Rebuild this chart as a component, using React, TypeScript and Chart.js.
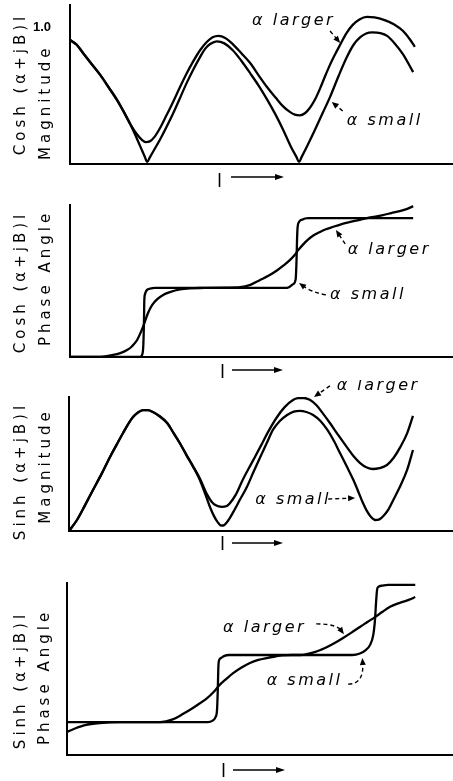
import React, { useEffect, useRef } from 'react';
import { Chart, registerables } from 'chart.js';

Chart.register(...registerables);

// x values: βl in degrees; y values
// Panel 1: Cosh (α+jB)l magnitude
const coshMagSmallX = [0, 8, 15.5, 25, 36, 46, 56, 66, 75, 84, 89, 92, 95, 100, 107, 115, 123, 131, 139, 147, 155, 161, 167, 175, 184, 194, 204, 215, 225, 235, 245, 254, 263, 270, 273, 276, 283, 292, 301, 310, 320, 330, 338, 346, 353, 360, 370, 378, 387, 397, 409];
const coshMagSmallY = [0.905, 0.87, 0.81, 0.735, 0.65, 0.56, 0.47, 0.36, 0.25, 0.125, 0.055, 0.015, 0.047, 0.1, 0.175, 0.27, 0.37, 0.48, 0.59, 0.69, 0.78, 0.84, 0.875, 0.895, 0.88, 0.83, 0.755, 0.66, 0.57, 0.47, 0.36, 0.25, 0.13, 0.05, 0.015, 0.05, 0.135, 0.25, 0.37, 0.49, 0.64, 0.78, 0.87, 0.925, 0.952, 0.96, 0.955, 0.935, 0.88, 0.8, 0.67];
const coshMagLargerX = [0, 8, 15.5, 25, 36, 46, 56, 64, 72, 80, 86, 90, 95, 101, 108, 115, 123, 131, 139, 147, 155, 163, 170, 177, 185, 194, 204, 215, 225, 235, 245, 254, 262, 268, 274, 280, 286, 292, 298, 304, 310, 316, 322, 329, 337, 345, 354, 363, 375, 386, 397, 405, 411];
const coshMagLargerY = [0.905, 0.87, 0.81, 0.735, 0.65, 0.56, 0.465, 0.38, 0.29, 0.215, 0.175, 0.16, 0.165, 0.2, 0.27, 0.355, 0.455, 0.56, 0.66, 0.75, 0.83, 0.89, 0.925, 0.935, 0.92, 0.875, 0.81, 0.735, 0.645, 0.56, 0.485, 0.42, 0.38, 0.36, 0.355, 0.37, 0.41, 0.47, 0.55, 0.64, 0.725, 0.8, 0.87, 0.95, 1.015, 1.055, 1.073, 1.07, 1.05, 1.02, 0.97, 0.91, 0.855];
const magTicks = [1.0];

// Panel 2: Cosh (α+jB)l phase angle (degrees)
const coshPhaseSmallX = [0, 40, 80, 83.4, 85.8, 87.4, 88.2, 88.6, 89.4, 91.8, 95.4, 101, 140, 200, 256, 261, 266, 269, 270, 270.6, 271.2, 273, 276.5, 284, 340, 409];
const coshPhaseSmallY = [0, 0, 0, 0, 5, 31, 96, 148, 163, 174, 177, 179, 179, 179, 179, 181, 189, 202, 251, 303, 334, 350, 356, 360, 360, 360];
const coshPhaseLargerX = [0, 20, 36, 48, 60, 68, 74, 80, 87, 93, 98, 104, 111, 119, 131, 143, 160, 185, 203, 215, 226, 237, 247, 255, 262, 268, 272, 278, 283, 290, 298, 305, 313, 323, 334, 344, 354, 364, 373, 383, 393, 402, 409];
const coshPhaseLargerY = [0, 0, 0, 4, 10, 18, 28, 44, 78, 114, 135, 150, 161, 168, 175, 178, 179, 180, 181, 187, 199, 211, 225, 238, 251, 265, 277, 292, 303, 315, 324, 331, 337, 344, 350, 355, 360, 364, 368, 373, 378, 384, 391];

// Panel 3: Sinh (α+jB)l magnitude
const sinhMagSmallX = [0, 9.5, 19, 28.6, 39, 48.9, 57, 64.4, 70, 76.3, 82, 88.2, 94, 100, 108, 117, 124, 132, 140, 148, 156, 162, 168, 173, 177, 181, 184, 188, 192, 197, 204, 212, 220, 228, 236, 243, 251, 260, 268, 275, 283, 291, 300, 308, 316, 323, 331, 339, 345, 350, 355, 360, 365, 370, 375, 381, 387, 395, 403, 410];
const sinhMagSmallY = [0, 0.09, 0.21, 0.336, 0.47, 0.607, 0.71, 0.803, 0.87, 0.934, 0.97, 0.99, 0.99, 0.975, 0.94, 0.885, 0.81, 0.721, 0.62, 0.525, 0.418, 0.31, 0.197, 0.12, 0.075, 0.045, 0.045, 0.07, 0.11, 0.17, 0.26, 0.361, 0.485, 0.607, 0.725, 0.828, 0.9, 0.951, 0.978, 0.984, 0.975, 0.951, 0.9, 0.828, 0.735, 0.639, 0.53, 0.418, 0.32, 0.235, 0.165, 0.115, 0.09, 0.095, 0.125, 0.18, 0.26, 0.37, 0.5, 0.664];
const sinhMagLargerX = [0, 9.5, 19, 28.6, 39, 48.9, 57, 64.4, 70, 76.3, 82, 88.2, 94, 100, 108, 117, 124, 132, 140, 148, 156, 164.5, 170, 175, 182, 188, 192, 199, 207, 218, 228, 238, 248, 257, 267, 273, 280, 287, 295, 303, 311, 321, 331, 339, 347, 355, 362, 370, 379, 387, 395, 403, 410];
const sinhMagLargerY = [0, 0.09, 0.21, 0.336, 0.47, 0.607, 0.71, 0.803, 0.87, 0.934, 0.97, 0.99, 0.99, 0.975, 0.94, 0.885, 0.81, 0.721, 0.625, 0.53, 0.43, 0.3, 0.24, 0.21, 0.197, 0.205, 0.23, 0.3, 0.418, 0.56, 0.689, 0.82, 0.934, 1.015, 1.074, 1.088, 1.09, 1.075, 1.03, 0.96, 0.885, 0.785, 0.689, 0.615, 0.557, 0.52, 0.508, 0.515, 0.541, 0.6, 0.689, 0.8, 0.943];

// Panel 4: Sinh (α+jB)l phase angle (degrees)
const sinhPhaseSmallX = [0, 60, 120, 168, 173, 177, 178.8, 179.7, 180.3, 181, 183.6, 187, 193, 250, 300, 340, 349, 356, 361, 365, 367, 368.5, 369.5, 371, 375.5, 382.6, 415];
const sinhPhaseSmallY = [87, 87, 87, 87, 90, 100, 119, 172, 227, 248, 256, 261, 264, 264, 264, 264, 268, 277, 290, 317, 356, 409, 436, 444, 447, 449, 449];
const sinhPhaseLargerX = [0, 9.5, 21.5, 39, 63, 90, 111, 126, 138, 150, 158, 167, 175, 182, 190, 198, 208, 218, 228, 238, 248, 257, 268, 278, 287, 296, 303, 310, 320, 329, 339, 349, 358, 367, 376, 385, 393, 400, 408, 415];
const sinhPhaseLargerY = [61, 70, 79, 84.5, 87, 87, 87, 94, 108, 124, 136, 150, 167, 185, 201, 216, 231, 243, 251, 256, 260, 263, 264, 264, 267, 272, 278, 285, 297, 309, 323, 338, 351, 364, 378, 391, 399, 404, 410, 417];

const LABEL_LARGER = 'α larger';
const LABEL_SMALL = 'α small';
const X_LABEL = 'l';

type TitleLine = { text: string; bx: number; ay: number; mode: 'center' | 'bottom' };
type Note = { text: string; at: [number, number]; arrow: [number, number][] };
type PanelDef = {
  top: number; height: number; chartTop: number; chartBottom: number; axisX: number;
  xMax: number; yMax: number;
  series: { x: number[]; y: number[] }[];
  ticks: number[];
  titles: TitleLine[];
  notes: Note[];
  lx: number; lBase: number; arrowY: number; arrowX1: number; arrowX2: number;
};

const panels: PanelDef[] = [
  {
    top: 0, height: 190, chartTop: 5, chartBottom: 164, axisX: 70, xMax: 456.5, yMax: 1.16,
    series: [{ x: coshMagSmallX, y: coshMagSmallY }, { x: coshMagLargerX, y: coshMagLargerY }],
    ticks: magTicks,
    titles: [
      { text: 'Cosh (α+jB)l', bx: 25, ay: 84, mode: 'center' },
      { text: 'Magnitude', bx: 49.5, ay: 160, mode: 'bottom' },
    ],
    notes: [
      { text: LABEL_LARGER, at: [217, 1.044], arrow: [[310, 0.97], [322, 0.883]] },
      { text: LABEL_SMALL, at: [330, 0.314], arrow: [[325, 0.387], [312, 0.453]] },
    ],
    lx: 217, lBase: 187, arrowY: 177, arrowX1: 231, arrowX2: 284,
  },
  {
    top: 190, height: 190, chartTop: 15, chartBottom: 167, axisX: 70, xMax: 456.5, yMax: 394,
    series: [{ x: coshPhaseSmallX, y: coshPhaseSmallY }, { x: coshPhaseLargerX, y: coshPhaseLargerY }],
    ticks: [],
    titles: [
      { text: 'Cosh (α+jB)l', bx: 25, ay: 92, mode: 'center' },
      { text: 'Phase Angle', bx: 50, ay: 88, mode: 'center' },
    ],
    notes: [
      { text: LABEL_LARGER, at: [331, 277], arrow: [[328, 293], [317, 329]] },
      { text: LABEL_SMALL, at: [310, 161], arrow: [[305, 161], [288, 168], [273, 192]] },
    ],
    lx: 220, lBase: 188, arrowY: 180, arrowX1: 232, arrowX2: 283,
  },
  {
    top: 380, height: 190, chartTop: 17, chartBottom: 151, axisX: 69, xMax: 457.7, yMax: 1.098,
    series: [{ x: sinhMagSmallX, y: sinhMagSmallY }, { x: sinhMagLargerX, y: sinhMagLargerY }],
    ticks: [],
    titles: [
      { text: 'Sinh (α+jB)l', bx: 24.5, ay: 91, mode: 'center' },
      { text: 'Magnitude', bx: 50, ay: 86, mode: 'center' },
    ],
    notes: [
      { text: LABEL_LARGER, at: [319, 1.189], arrow: [[311, 1.189], [292, 1.098]] },
      { text: LABEL_SMALL, at: [222, 0.254], arrow: [[309, 0.262], [341, 0.27]] },
    ],
    lx: 220, lBase: 170, arrowY: 163, arrowX1: 232, arrowX2: 283,
  },
  {
    top: 570, height: 211, chartTop: 13, chartBottom: 185, axisX: 67, xMax: 460, yMax: 454,
    series: [{ x: sinhPhaseSmallX, y: sinhPhaseSmallY }, { x: sinhPhaseLargerX, y: sinhPhaseLargerY }],
    ticks: [],
    titles: [
      { text: 'Sinh (α+jB)l', bx: 25, ay: 110, mode: 'center' },
      { text: 'Phase Angle', bx: 49, ay: 107, mode: 'center' },
    ],
    notes: [
      { text: LABEL_LARGER, at: [186, 335], arrow: [[297, 346], [321, 346], [330, 319]] },
      { text: LABEL_SMALL, at: [238, 195], arrow: [[335, 187], [354, 187], [352, 256]] },
    ],
    lx: 221, lBase: 207, arrowY: 200, arrowX1: 233, arrowX2: 285,
  },
];

function arrowHead(ctx: CanvasRenderingContext2D, fx: number, fy: number, tx: number, ty: number, len: number, hw: number) {
  const dx = tx - fx, dy = ty - fy;
  const d = Math.hypot(dx, dy) || 1;
  const ux = dx / d, uy = dy / d;
  const bx = tx - ux * len, by = ty - uy * len;
  ctx.beginPath();
  ctx.moveTo(tx, ty);
  ctx.lineTo(bx - uy * hw, by + ux * hw);
  ctx.lineTo(bx + uy * hw, by - ux * hw);
  ctx.closePath();
  ctx.fill();
}

function makeDecor(p: PanelDef) {
  return {
    id: 'decor',
    afterDraw(chart: any) {
      const ctx: CanvasRenderingContext2D = chart.ctx;
      const xs = chart.scales.x, ys = chart.scales.y;
      ctx.save();
      ctx.fillStyle = '#000';
      ctx.strokeStyle = '#000';
      // axis titles (rotated)
      ctx.font = '15px "DejaVu Sans"';
      (ctx as any).letterSpacing = '4px';
      for (const t of p.titles) {
        ctx.save();
        ctx.translate(t.bx, t.ay);
        ctx.rotate(-Math.PI / 2);
        ctx.textBaseline = 'alphabetic';
        ctx.textAlign = t.mode === 'center' ? 'center' : 'left';
        ctx.fillText(t.text, 0, 0);
        ctx.restore();
      }
      // x label "l ⟶"
      (ctx as any).letterSpacing = '0px';
      ctx.font = '18px "DejaVu Sans"';
      ctx.textAlign = 'left';
      ctx.textBaseline = 'alphabetic';
      ctx.fillText(X_LABEL, p.lx, p.lBase);
      ctx.lineWidth = 1.3;
      ctx.beginPath();
      ctx.moveTo(p.arrowX1, p.arrowY);
      ctx.lineTo(p.arrowX2 - 4, p.arrowY);
      ctx.stroke();
      arrowHead(ctx, p.arrowX1, p.arrowY, p.arrowX2, p.arrowY, 9, 3);
      // annotations
      ctx.font = 'italic 16px "DejaVu Sans"';
      (ctx as any).letterSpacing = '2.5px';
      for (const n of p.notes) {
        ctx.textAlign = 'left';
        ctx.textBaseline = 'middle';
        ctx.fillText(n.text, xs.getPixelForValue(n.at[0]), ys.getPixelForValue(n.at[1]));
        const pts = n.arrow.map(([a, b]) => [xs.getPixelForValue(a), ys.getPixelForValue(b)]);
        const tip = pts[pts.length - 1];
        const prev = pts[pts.length - 2];
        ctx.save();
        ctx.lineWidth = 1.4;
        ctx.setLineDash([4, 3]);
        ctx.beginPath();
        ctx.moveTo(pts[0][0], pts[0][1]);
        const d = Math.hypot(tip[0] - prev[0], tip[1] - prev[1]) || 1;
        const ex = tip[0] - (tip[0] - prev[0]) / d * 5;
        const ey = tip[1] - (tip[1] - prev[1]) / d * 5;
        if (pts.length === 3) ctx.quadraticCurveTo(pts[1][0], pts[1][1], ex, ey);
        else ctx.lineTo(ex, ey);
        ctx.stroke();
        ctx.restore();
        arrowHead(ctx, prev[0], prev[1], tip[0], tip[1], 7, 3);
      }
      ctx.restore();
    },
  };
}

function makeConfig(p: PanelDef): any {
  return {
    type: 'line',
    data: {
      datasets: p.series.map((s) => ({
        data: s.x.map((x, i) => ({ x, y: s.y[i] })),
        borderColor: '#000',
        borderWidth: 2.3,
        pointRadius: 0,
        fill: false,
        cubicInterpolationMode: 'monotone',
      })),
    },
    options: {
      animation: false,
      responsive: false,
      events: [],
      layout: {
        autoPadding: false,
        padding: { top: p.chartTop, bottom: p.height - p.chartBottom, left: 0, right: 0 },
      },
      plugins: { legend: { display: false }, tooltip: { enabled: false }, title: { display: false } },
      scales: {
        x: {
          type: 'linear', min: 0, max: p.xMax,
          grid: { display: false, drawTicks: false, tickLength: 0 },
          border: { display: true, width: 2, color: '#000' },
          ticks: { display: false },
          afterFit: (s: any) => { s.height = 0; s.paddingLeft = 0; s.paddingRight = 0; },
        },
        y: {
          type: 'linear', min: 0, max: p.yMax,
          grid: { display: false, drawTicks: false, tickLength: 0 },
          border: { display: true, width: 2, color: '#000' },
          ticks: {
            display: p.ticks.length > 0,
            padding: 19,
            color: '#000',
            font: { family: 'Liberation Sans', size: 13, weight: 'bold' },
            callback: (v: any) => Number(v).toFixed(1),
          },
          afterBuildTicks: (s: any) => { if (p.ticks.length) s.ticks = p.ticks.map((v) => ({ value: v })); },
          afterFit: (s: any) => { s.width = p.axisX; s.paddingTop = 0; s.paddingBottom = 0; },
        },
      },
    },
    plugins: [makeDecor(p)],
  };
}

function PanelChart({ p }: { p: PanelDef }) {
  const ref = useRef<HTMLCanvasElement>(null);
  useEffect(() => {
    const chart = new Chart(ref.current as HTMLCanvasElement, makeConfig(p));
    return () => chart.destroy();
  }, [p]);
  return (
    <canvas
      ref={ref}
      width={453}
      height={p.height}
      style={{ position: 'absolute', left: 0, top: p.top, width: 453, height: p.height }}
    />
  );
}

export default function App() {
  return (
    <div style={{ position: 'absolute', left: 0, top: 0, width: 453, height: 781, background: '#fff', overflow: 'hidden' }}>
      {panels.map((p, i) => (
        <PanelChart key={i} p={p} />
      ))}
    </div>
  );
}
